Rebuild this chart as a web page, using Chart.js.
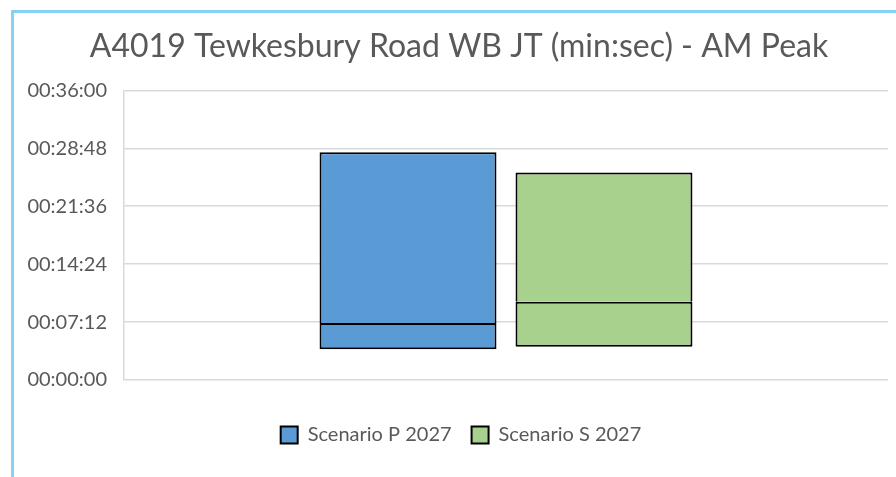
<!DOCTYPE html>
<html>
<head>
<meta charset="utf-8">
<script src="https://cdn.jsdelivr.net/npm/chart.js@4.4.1/dist/chart.umd.min.js"></script>
<style>
  html, body { margin: 0; padding: 0; background: #fff; }
  #frame {
    position: absolute; left: 11px; top: 10px; width: 900px; height: 480px;
    border-left: 3px solid #86d2f5; border-top: 3px solid #86d2f5;
  }
  #wrap { position: absolute; left: 0; top: 0; width: 896px; height: 477px; }
</style>
</head>
<body>
<div id="frame"></div>
<div id="wrap"><canvas id="jt"></canvas></div>
<script>
/* journey times in seconds */
const categories  = [''];
const seriesNames = ['Scenario P 2027', 'Scenario S 2027'];
const minTimes    = [230, 248];
const midTimes    = [425, 583];
const maxTimes    = [1698, 1548];
const yTicks      = [0, 432, 864, 1296, 1728, 2160];

const FILLS = ['#5b9bd5', '#a9d18e'];
const TEXT  = '#595959';
const GRID  = '#d9d9d9';
const FONT  = "Lato, 'Open Sans', sans-serif";

function hms(v){
  const h = Math.floor(v / 3600), m = Math.floor((v % 3600) / 60), s = Math.round(v % 60);
  return [h, m, s].map(n => String(n).padStart(2, '0')).join(':');
}

// each scenario is two floating segments (min->mid, mid->max) sharing a stack slot;
// the upper one skips its bottom edge so the divider stays a single line
const datasets = [];
seriesNames.forEach((name, i) => {
  const base = { label: name, stack: name, backgroundColor: FILLS[i], borderColor: '#000',
                 borderWidth: 2, categoryPercentage: 0.513, barPercentage: 0.903 };
  datasets.push(Object.assign({}, base, { data: [[minTimes[i], midTimes[i]]], borderSkipped: false }));
  datasets.push(Object.assign({}, base, { data: [[midTimes[i], maxTimes[i]]], borderSkipped: 'start' }));
});

// the original centres title + legend on the whole frame, not on the canvas minus axis
const nudge = {
  id: 'nudge',
  beforeDraw(chart){
    if(chart.titleBlock){ chart.titleBlock.left += 15; chart.titleBlock.right += 15; }
    if(chart.legend){ chart.legend.left += 17; chart.legend.right += 17; }
  }
};

new Chart(document.getElementById('jt'), {
  type: 'bar',
  data: { labels: categories, datasets },
  plugins: [nudge],
  options: {
    responsive: true, maintainAspectRatio: false, animation: false,
    layout: { padding: { left: 0, right: 8, top: 0, bottom: 22 } },
    plugins: {
      title: {
        display: true, text: 'A4019 Tewkesbury Road WB JT (min:sec) - AM Peak',
        color: TEXT, font: { family: FONT, size: 32, weight: 'normal' },
        padding: { top: 27, bottom: 25 },
      },
      legend: {
        position: 'bottom',
        labels: {
          color: TEXT, font: { family: FONT, size: 20 }, boxWidth: 17, boxHeight: 17, padding: 20,
          filter: item => item.datasetIndex % 2 === 0,
        },
      },
      tooltip: { enabled: false },
    },
    scales: {
      x: {
        ticks: { display: false }, grid: { display: false }, border: { display: false },
        afterFit: s => { s.height = 25; },
      },
      y: {
        min: 0, max: 2160, stacked: false,
        afterBuildTicks: s => { s.ticks = yTicks.map(v => ({ value: v })); },
        afterFit: s => { s.width = 124; },
        ticks: { color: TEXT, font: { family: FONT, size: 20 }, padding: 17, callback: v => hms(v) },
        grid: { color: GRID, lineWidth: 1.5, drawTicks: false },
        border: { display: true, color: GRID, width: 1.5 },
      },
    },
  },
});
</script>
</body>
</html>
